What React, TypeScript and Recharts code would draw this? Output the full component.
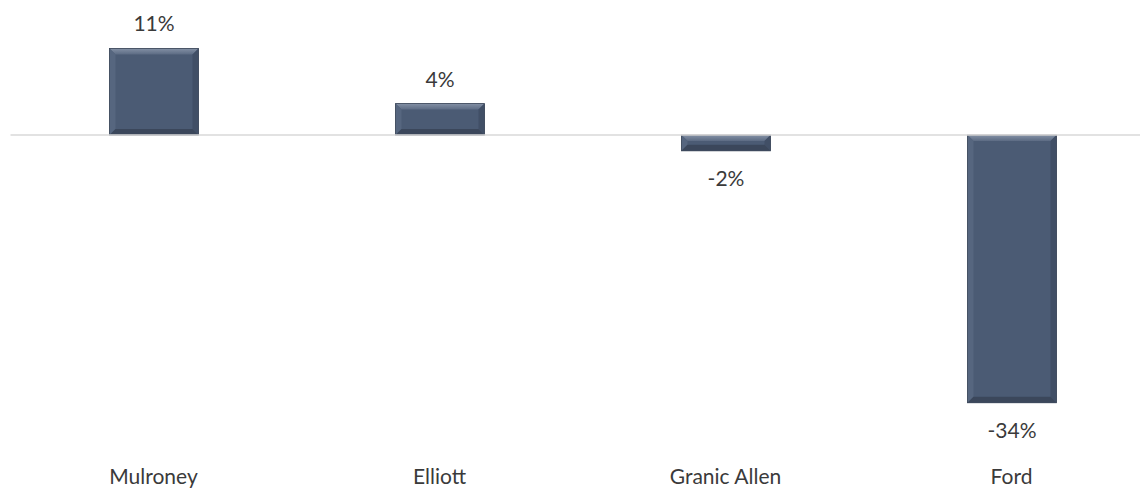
import React from 'react';
import { BarChart, Bar, XAxis, YAxis, ReferenceLine, LabelList } from 'recharts';

const candidates = ['Mulroney', 'Elliott', 'Granic Allen', 'Ford'];
const change = [11, 4, -2, -34];

const data = candidates.map((name, i) => ({ name, value: change[i] }));

const FONT = 'Lato, "Open Sans", sans-serif';
const TEXT = '#3a3a3a';

// excel-ish bevelled bar
const BevelBar = (props: any) => {
  const { x, y, width, height } = props;
  const top = Math.min(y, y + height);
  const h = Math.abs(height);
  const b = Math.min(6, h / 2.5);
  const l = x;
  const r = x + width;
  const bt = top + h;
  return (
    <g>
      <rect x={l} y={top} width={width} height={h} fill="#4b5b74" />
      <polygon points={`${l},${top} ${r},${top} ${r - b},${top + b} ${l + b},${top + b}`} fill="url(#bevTop)" />
      <polygon points={`${l},${top} ${l + b},${top + b} ${l + b},${bt - b} ${l},${bt}`} fill="#56667f" />
      <polygon points={`${r},${top} ${r - b},${top + b} ${r - b},${bt - b} ${r},${bt}`} fill="#414f66" />
      <polygon points={`${l},${bt} ${l + b},${bt - b} ${r - b},${bt - b} ${r},${bt}`} fill="#3b475b" />
      <rect x={l} y={top} width={width} height={h} fill="none" stroke="#3a4558" strokeWidth={0.8} />
    </g>
  );
};

const ValueLabel = (props: any) => {
  const { x, y, width, height, value } = props;
  const top = Math.min(y, y + height);
  const bottom = Math.max(y, y + height);
  const ty = value >= 0 ? top - 17 : bottom + 35;
  return (
    <text x={x + width / 2} y={ty} textAnchor="middle" fontFamily={FONT} fontSize={21} fill={TEXT}>
      {`${value}%`}
    </text>
  );
};

const CategoryTick = (props: any) => {
  const { x, y, payload } = props;
  return (
    <text x={x} y={y + 34} textAnchor="middle" fontFamily={FONT} fontSize={21} fill={TEXT}>
      {payload.value}
    </text>
  );
};

export default function App() {
  return (
    <div style={{ position: 'fixed', top: 0, left: 0, width: 1140, height: 489, overflow: 'hidden', background: '#fff' }}>
      <BarChart
        width={1160}
        height={489}
        data={data}
        margin={{ top: 17, right: 5.5, bottom: 0, left: 10.5 }}
        barSize={89}
      >
        <defs>
          <linearGradient id="bevTop" x1="0" y1="0" x2="0" y2="1">
            <stop offset="0%" stopColor="#8390a5" />
            <stop offset="100%" stopColor="#5c6b83" />
          </linearGradient>
        </defs>
        <XAxis
          dataKey="name"
          axisLine={false}
          tickLine={false}
          tickSize={0}
          tickMargin={0}
          height={39}
          tick={<CategoryTick />}
          interval={0}
        />
        <YAxis hide domain={[-40, 15]} />
        <ReferenceLine y={0} stroke="#d9d9d9" strokeWidth={1.5} />
        <Bar dataKey="value" shape={<BevelBar />} isAnimationActive={false}>
          <LabelList dataKey="value" content={<ValueLabel />} />
        </Bar>
      </BarChart>
    </div>
  );
}
